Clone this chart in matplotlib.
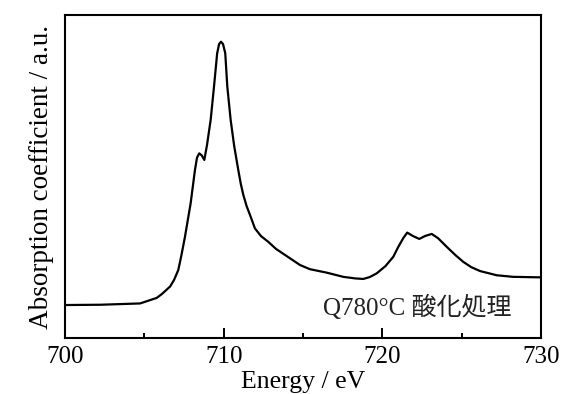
import numpy as np
import matplotlib
matplotlib.use('Agg')
import matplotlib.pyplot as plt
from matplotlib.ticker import MultipleLocator

# Fe L-edge absorption spectrum
energy = [700.00, 702.21, 704.73, 705.78, 706.11, 706.62, 706.87, 707.14,
          707.34, 707.56, 707.92, 708.19, 708.32, 708.46, 708.62, 708.78,
          708.95, 709.18, 709.39, 709.59, 709.71, 709.83, 709.96, 710.10,
          710.23, 710.44, 710.66, 710.92, 711.08, 711.24, 711.45, 711.66,
          711.97, 712.35, 712.81, 713.30, 713.87, 714.81, 715.44, 716.49,
          717.54, 718.30, 718.80, 719.20, 719.64, 720.20, 720.69, 721.00,
          721.32, 721.57, 721.93, 722.33, 722.69, 723.11, 723.51, 724.06,
          724.60, 725.10, 725.60, 726.16, 727.21, 728.25, 730.00]
absorb = [0.000, 0.001, 0.006, 0.027, 0.042, 0.070, 0.095, 0.133,
          0.190, 0.259, 0.387, 0.513, 0.560, 0.576, 0.568, 0.551,
          0.608, 0.703, 0.829, 0.956, 0.991, 1.000, 0.991, 0.956,
          0.829, 0.703, 0.605, 0.513, 0.460, 0.418, 0.375, 0.342,
          0.291, 0.262, 0.240, 0.213, 0.190, 0.152, 0.136, 0.123,
          0.107, 0.101, 0.099, 0.106, 0.120, 0.148, 0.183, 0.220,
          0.254, 0.275, 0.262, 0.251, 0.262, 0.270, 0.254, 0.221,
          0.190, 0.164, 0.144, 0.129, 0.113, 0.107, 0.105]

xticks = [700, 710, 720, 730]
label = "Q780°C 酸化処理"

serif = ['Liberation Serif', 'DejaVu Serif']
plt.rcParams['font.family'] = serif

fig = plt.figure(figsize=(5.61, 3.94), dpi=100)
ax = fig.add_axes([0.1159, 0.1421, 0.8484, 0.8198])

ax.plot(energy, absorb, color='black', lw=1.6, solid_joinstyle='round')

ax.set_xlim(700, 730)
ax.set_ylim(-0.1253, 1.1014)
ax.set_xticks(xticks)
ax.xaxis.set_minor_locator(MultipleLocator(5))
ax.set_yticks([])
ax.tick_params(axis='x', which='major', direction='in', length=7.5,
               width=1.4, labelsize=18, pad=6)
ax.tick_params(axis='x', which='minor', direction='in', length=3.8, width=1.4)
for sp in ax.spines.values():
    sp.set_linewidth(1.5)

ax.set_xlabel("Energy / eV", fontsize=18.5, labelpad=2)
ax.set_ylabel("Absorption coefficient / a.u.", fontsize=19.5, labelpad=8)

ax.text(0.541, 0.07, label, transform=ax.transAxes, fontsize=18,
        family=['Liberation Serif', 'Noto Sans CJK JP'], color='#222222',
        ha='left', va='baseline')

fig.savefig('out.png', dpi=100)
